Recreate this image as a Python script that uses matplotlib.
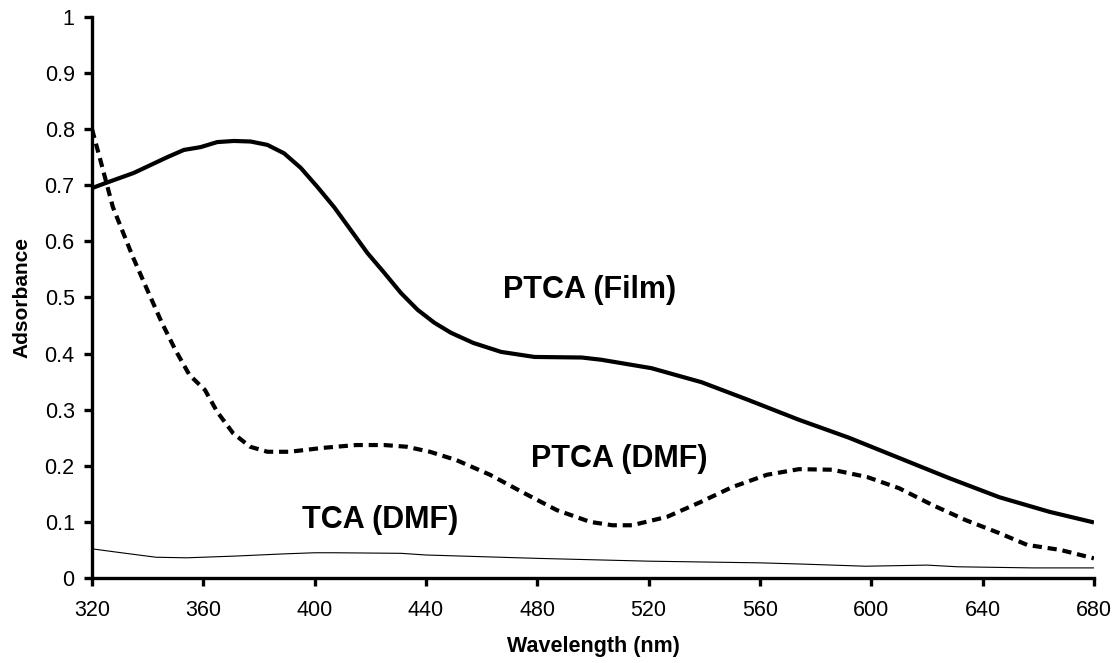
import numpy as np
import matplotlib
matplotlib.use("Agg")
import matplotlib.pyplot as plt

plt.rcParams['font.family'] = ['Liberation Sans', 'DejaVu Sans']

# PTCA film (solid, thick)
film_nm = [320, 326, 335, 341, 347, 353, 359, 365, 371, 377, 383, 389, 395,
           401, 407, 413, 419, 425, 431, 437, 443, 449, 457, 467, 479, 496,
           503, 521, 539, 556, 574, 592, 610, 628, 646, 664, 680]
film_abs = [0.695, 0.706, 0.722, 0.736, 0.750, 0.763, 0.768, 0.777, 0.779, 0.778,
            0.772, 0.757, 0.731, 0.697, 0.661, 0.620, 0.579, 0.544, 0.508, 0.478,
            0.455, 0.437, 0.419, 0.403, 0.394, 0.393, 0.389, 0.374, 0.349, 0.317,
            0.282, 0.250, 0.214, 0.178, 0.144, 0.118, 0.099]

# PTCA in DMF (dashed)
dmf_nm = [320, 323, 327.5, 334.7, 340, 345, 350, 355, 360.6, 365, 370.7, 376.8,
          383, 391, 403, 415, 425, 433, 441.4, 451, 463, 475, 487, 499, 507, 514,
          526.6, 538.5, 550, 562.5, 574, 586, 598.5, 610, 622, 634, 646, 656,
          668, 680]
dmf_abs = [0.800, 0.745, 0.661, 0.572, 0.512, 0.456, 0.406, 0.362, 0.335, 0.296,
           0.258, 0.234, 0.225, 0.225, 0.232, 0.237, 0.237, 0.234, 0.225, 0.210,
           0.184, 0.152, 0.121, 0.100, 0.094, 0.094, 0.109, 0.135, 0.162, 0.184,
           0.194, 0.193, 0.180, 0.160, 0.130, 0.103, 0.080, 0.059, 0.050, 0.035]

# TCA in DMF (thin)
tca_nm = [320, 329, 343, 354, 371, 389, 400, 407, 431, 440, 480, 520, 560, 574,
          598, 620, 631, 658, 680]
tca_abs = [0.052, 0.046, 0.037, 0.036, 0.039, 0.043, 0.045, 0.045, 0.044, 0.041,
           0.035, 0.030, 0.027, 0.025, 0.021, 0.023, 0.020, 0.018, 0.018]

x_ticks = [320, 360, 400, 440, 480, 520, 560, 600, 640, 680]
y_ticks = [0, 0.1, 0.2, 0.3, 0.4, 0.5, 0.6, 0.7, 0.8, 0.9, 1]
y_labels = ["0", "0.1", "0.2", "0.3", "0.4", "0.5", "0.6", "0.7", "0.8", "0.9", "1"]

fig = plt.figure(figsize=(11.14, 6.63), dpi=100)
ax = fig.add_axes([0.0826, 0.1282, 0.8994, 0.8462])

ax.plot(film_nm, film_abs, color='black', linewidth=3.0, solid_capstyle='butt')
ax.plot(dmf_nm, dmf_abs, color='black', linewidth=3.0, dashes=(2.2, 1.4))
ax.plot(tca_nm, tca_abs, color='black', linewidth=0.8)

ax.text(498.9, 0.499, "PTCA (Film)", fontsize=22, fontweight='bold', ha='center', va='baseline')
ax.text(509.4, 0.198, "PTCA (DMF)", fontsize=22, fontweight='bold', ha='center', va='baseline')
ax.text(423.5, 0.089, "TCA (DMF)", fontsize=22, fontweight='bold', ha='center', va='baseline')

ax.set_xlim(320, 680)
ax.set_ylim(0, 1)
ax.set_xticks(x_ticks)
ax.set_yticks(y_ticks)
ax.set_yticklabels(y_labels)

for s in ['top', 'right']:
    ax.spines[s].set_visible(False)
for s in ['left', 'bottom']:
    ax.spines[s].set_linewidth(2.4)
ax.tick_params(direction='out', length=5.5, width=2.4, labelsize=15.5)
ax.tick_params(axis='x', pad=10)
ax.tick_params(axis='y', pad=7)

ax.set_xlabel("Wavelength (nm)", fontsize=15.5, fontweight='bold')
ax.xaxis.set_label_coords(0.5, -0.103)
ax.set_ylabel("Adsorbance", fontsize=15, fontweight='bold', va='center')
ax.yaxis.set_label_coords(-0.07, 0.5)

plt.savefig("out.png", dpi=100)
